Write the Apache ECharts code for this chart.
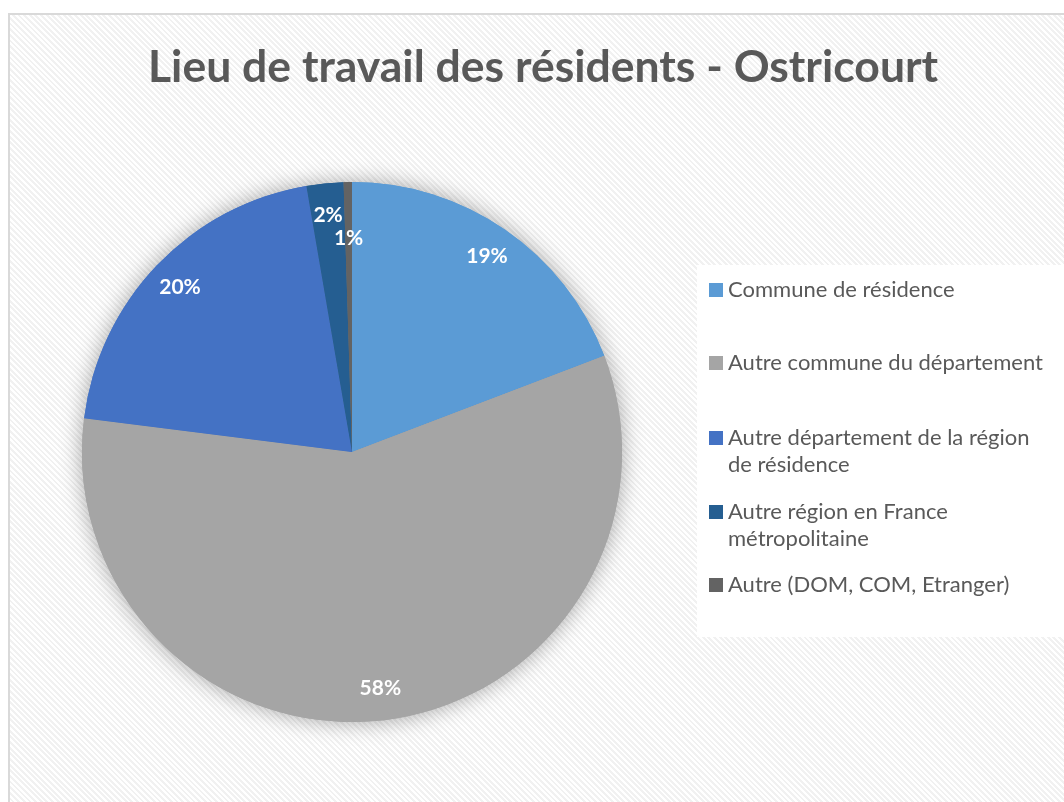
<!DOCTYPE html>
<html>
<head>
<meta charset="utf-8">
<script src="https://cdn.jsdelivr.net/npm/echarts@6/dist/echarts.min.js"></script>
<style>
html,body{margin:0;padding:0;background:#fff;}
#frame{position:absolute;left:8px;top:13px;width:1100px;height:850px;border:2px solid #d9d9d9;
  background:repeating-linear-gradient(45deg,#ffffff 0 2px,#f1f1f1 2px 4px);}
#chart{position:absolute;left:0;top:0;width:1064px;height:802px;}
</style>
</head>
<body>
<div id="frame"></div>
<div id="chart"></div>
<script>
// données (en % des actifs résidents)
const categories = [
  'Commune de résidence',
  'Autre commune du département',
  'Autre département de la région de résidence',
  'Autre région en France métropolitaine',
  'Autre (DOM, COM, Etranger)'
];
const shares = [19.2, 57.8, 20.3, 2.2, 0.5];
const colors = ['#5B9BD5', '#A5A5A5', '#4472C4', '#255E91', '#636363'];

// position de la première ligne de chaque entrée de légende
const legendLines = [290, 363, 438, 512, 585];
const legendWrapped = [false, false, true, true, false];

const font = 'Lato, "Noto Sans", sans-serif';
const center = [352, 452];
const R = 270;

const pieData = categories.map((name, i) => ({ name: name, value: shares[i] }));
// la toute petite part a son étiquette un peu plus vers le centre
const small = shares.length - 1;
const labelsOuter = pieData.map((d, i) => Object.assign({}, d, { label: { show: i !== small } }));
const labelsInner = pieData.map((d, i) => Object.assign({}, d, { label: { show: i === small } }));

const legends = categories.map((name, i) => {
  const wrap = legendWrapped[i];
  return {
    orient: 'vertical',
    left: 709,
    top: legendLines[i] - 13.5 - (wrap ? 27 : 0),
    padding: 0,
    data: [name],
    icon: 'rect',
    itemWidth: 14,
    itemHeight: 14,
    selectedMode: false,
    // ligne vide devant : le carré reste aligné sur la 1re ligne
    formatter: wrap ? (n => '\n' + n) : '{name}',
    textStyle: Object.assign({
      fontFamily: font,
      fontSize: 22,
      color: '#595959',
      lineHeight: 27
    }, wrap ? { width: 334, overflow: 'break' } : {})
  };
});

const labelStyle = {
  show: true,
  position: 'inside',
  formatter: p => Math.round(p.percent) + '%',
  color: '#ffffff',
  fontFamily: font,
  fontSize: 21,
  fontWeight: 'bold'
};

function labelSeries(data, r0) {
  return {
    type: 'pie', center: center, radius: [r0, R], silent: true,
    data: data,
    itemStyle: { color: 'rgba(0,0,0,0)' },
    emphasis: { disabled: true },
    avoidLabelOverlap: false,
    label: labelStyle,
    labelLine: { show: false },
    z: 3
  };
}

const chart = echarts.init(document.getElementById('chart'));
chart.setOption({
  backgroundColor: 'transparent',
  color: colors,
  title: {
    text: 'Lieu de travail des résidents - Ostricourt',
    left: 143,
    top: 40,
    textStyle: { fontFamily: font, fontSize: 44.5, fontWeight: 'bold', color: '#595959' }
  },
  legend: legends,
  graphic: [{
    type: 'rect',
    left: 697, top: 265,
    shape: { width: 380, height: 372 },
    style: { fill: '#ffffff' },
    z: -1
  }],
  series: [
    {
      // ombre portée
      type: 'pie', center: center, radius: R, silent: true,
      data: pieData,
      label: { show: false }, labelLine: { show: false },
      emphasis: { disabled: true },
      itemStyle: { shadowBlur: 22, shadowColor: 'rgba(0,0,0,0.35)' },
      z: 1
    },
    {
      type: 'pie', center: center, radius: R,
      data: pieData,
      label: { show: false }, labelLine: { show: false },
      emphasis: { disabled: true },
      z: 2
    },
    labelSeries(labelsOuter, 200),
    labelSeries(labelsInner, 152)
  ]
});
</script>
</body>
</html>
